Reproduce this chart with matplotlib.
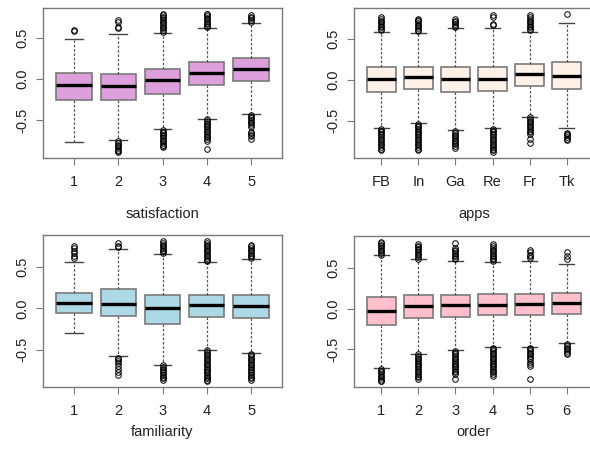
import matplotlib
matplotlib.use("Agg")
import matplotlib.pyplot as plt

plt.rcParams['font.family'] = ['Liberation Sans', 'DejaVu Sans']

# ---- satisfaction ----
sat_labels = ["1", "2", "3", "4", "5"]
sat_q1 = [-0.26, -0.26, -0.18, -0.075, -0.02]
sat_med = [-0.069, -0.08, -0.005, 0.07, 0.12]
sat_q3 = [0.073, 0.06, 0.12, 0.21, 0.26]
sat_lo = [-0.77, -0.745, -0.61, -0.485, -0.42]
sat_hi = [0.49, 0.55, 0.565, 0.62, 0.68]
sat_fliers = [
    [0.59, 0.60],
    [0.62, 0.63, 0.70, 0.72,
     -0.76, -0.78, -0.80, -0.82, -0.84, -0.86, -0.88, -0.895],
    [0.58, 0.60, 0.62, 0.64, 0.66, 0.68, 0.70, 0.72, 0.74, 0.76, 0.78, 0.80,
     -0.62, -0.64, -0.66, -0.68, -0.70, -0.72, -0.74, -0.76, -0.78, -0.80,
     -0.82, -0.83],
    [0.63, 0.65, 0.67, 0.69, 0.71, 0.73, 0.75, 0.77, 0.79, 0.80,
     -0.49, -0.51, -0.53, -0.55, -0.57, -0.59, -0.61, -0.63, -0.65, -0.67,
     -0.69, -0.71, -0.73, -0.75, -0.855],
    [0.70, 0.72, 0.74, 0.76, 0.785,
     -0.44, -0.46, -0.48, -0.50, -0.52, -0.54, -0.56, -0.585,
     -0.645, -0.66, -0.68, -0.70, -0.725],
]

# ---- apps ----
app_labels = ["FB", "In", "Ga", "Re", "Fr", "Tk"]
app_q1 = [-0.145, -0.113, -0.153, -0.14, -0.073, -0.113]
app_med = [0.012, 0.032, 0.012, 0.012, 0.073, 0.048]
app_q3 = [0.15, 0.16, 0.153, 0.16, 0.193, 0.21]
app_lo = [-0.585, -0.53, -0.617, -0.585, -0.455, -0.585]
app_hi = [0.585, 0.575, 0.625, 0.625, 0.585, 0.69]
app_fliers = [
    [0.60, 0.62, 0.64, 0.66, 0.68, 0.70, 0.72, 0.74, 0.77,
     -0.60, -0.62, -0.64, -0.66, -0.68, -0.70, -0.72, -0.74, -0.76, -0.78,
     -0.80, -0.82, -0.84, -0.855],
    [0.59, 0.61, 0.63, 0.65, 0.67, 0.69, 0.71, 0.73, 0.745,
     -0.54, -0.56, -0.58, -0.60, -0.62, -0.64, -0.66, -0.68, -0.70, -0.72,
     -0.74, -0.76, -0.78, -0.80, -0.82, -0.84, -0.855],
    [0.64, 0.66, 0.68, 0.70, 0.72, 0.745,
     -0.63, -0.65, -0.67, -0.69, -0.71, -0.73, -0.75, -0.77, -0.79, -0.81,
     -0.835],
    [0.665, 0.68, 0.76, 0.785,
     -0.60, -0.62, -0.64, -0.66, -0.68, -0.70, -0.72, -0.74, -0.76, -0.78,
     -0.80, -0.82, -0.84, -0.86, -0.887],
    [0.60, 0.62, 0.64, 0.66, 0.68, 0.70, 0.72, 0.74, 0.76, 0.785,
     -0.46, -0.48, -0.50, -0.52, -0.54, -0.56, -0.58, -0.60, -0.62, -0.64,
     -0.66, -0.72, -0.775],
    [0.806,
     -0.645, -0.66, -0.68, -0.70, -0.72, -0.734],
]

# ---- familiarity ----
fam_labels = ["1", "2", "3", "4", "5"]
fam_q1 = [-0.061, -0.093, -0.187, -0.10, -0.114]
fam_med = [0.069, 0.049, 0.008, 0.041, 0.033]
fam_q3 = [0.19, 0.232, 0.163, 0.167, 0.167]
fam_lo = [-0.305, -0.573, -0.683, -0.50, -0.54]
fam_hi = [0.565, 0.72, 0.658, 0.557, 0.598]
fam_fliers = [
    [0.61, 0.63, 0.67, 0.70, 0.73, 0.76],
    [0.74, 0.76, 0.79,
     -0.60, -0.62, -0.64, -0.66, -0.70, -0.74, -0.77, -0.805],
    [0.67, 0.69, 0.71, 0.73, 0.75, 0.77, 0.79, 0.82,
     -0.69, -0.71, -0.73, -0.75, -0.77, -0.79, -0.81, -0.83, -0.85, -0.866],
    [0.57, 0.59, 0.61, 0.63, 0.65, 0.67, 0.69, 0.71, 0.73, 0.75, 0.77,
     0.79, 0.81,
     -0.51, -0.53, -0.55, -0.57, -0.59, -0.61, -0.63, -0.65, -0.67, -0.69,
     -0.71, -0.73, -0.75, -0.77, -0.79, -0.81, -0.83, -0.85, -0.87, -0.886],
    [0.61, 0.63, 0.65, 0.67, 0.69, 0.71, 0.73, 0.75, 0.77,
     -0.55, -0.57, -0.59, -0.61, -0.63, -0.65, -0.67, -0.69, -0.71, -0.73,
     -0.75, -0.77, -0.79, -0.81, -0.83, -0.85, -0.866],
]

# ---- order ----
ord_labels = ["1", "2", "3", "4", "5", "6"]
ord_q1 = [-0.20, -0.113, -0.10, -0.077, -0.081, -0.061]
ord_med = [-0.024, 0.036, 0.045, 0.049, 0.061, 0.065]
ord_q3 = [0.138, 0.17, 0.17, 0.178, 0.178, 0.19]
ord_lo = [-0.729, -0.55, -0.51, -0.466, -0.466, -0.417]
ord_hi = [0.652, 0.603, 0.587, 0.563, 0.583, 0.547]
ord_fliers = [
    [0.66, 0.68, 0.70, 0.72, 0.74, 0.76, 0.78, 0.80, 0.818,
     -0.74, -0.76, -0.78, -0.80, -0.82, -0.84, -0.86, -0.88, -0.89],
    [0.61, 0.63, 0.65, 0.67, 0.69, 0.71, 0.73, 0.75, 0.77, 0.79,
     -0.56, -0.58, -0.60, -0.62, -0.64, -0.66, -0.68, -0.70, -0.72, -0.74,
     -0.76, -0.78, -0.80, -0.82, -0.84, -0.862],
    [0.60, 0.62, 0.64, 0.66, 0.68, 0.70, 0.72, 0.74, 0.806,
     -0.52, -0.54, -0.56, -0.58, -0.60, -0.62, -0.64, -0.66, -0.68, -0.70,
     -0.72, -0.74, -0.76, -0.78, -0.80, -0.862],
    [0.58, 0.60, 0.62, 0.64, 0.66, 0.68, 0.70, 0.72, 0.74, 0.76, 0.79,
     -0.48, -0.50, -0.52, -0.54, -0.56, -0.58, -0.60, -0.62, -0.64, -0.66,
     -0.68, -0.70, -0.72, -0.74, -0.76, -0.78, -0.80, -0.83],
    [0.62, 0.64, 0.66, 0.69, 0.717,
     -0.48, -0.50, -0.52, -0.54, -0.56, -0.58, -0.60, -0.62, -0.65, -0.68,
     -0.70, -0.862],
    [0.60, 0.636, 0.696,
     -0.437, -0.46, -0.48, -0.50, -0.52, -0.54, -0.56],
]

EDGE = "#7a7a7a"
TXT = "#222222"


def draw_panel(fig, rect, labels, q1, med, q3, lo, hi, fliers, color, xlabel,
               labelpad):
    ax = fig.add_axes(rect)
    stats = []
    for i in range(len(labels)):
        stats.append(dict(q1=q1[i], med=med[i], q3=q3[i], whislo=lo[i],
                          whishi=hi[i], fliers=fliers[i]))
    n = len(labels)
    ax.bxp(stats, positions=range(1, n + 1), widths=0.8, patch_artist=True,
           boxprops=dict(facecolor=color, edgecolor=EDGE, linewidth=1.2),
           medianprops=dict(color="black", linewidth=2.4),
           whiskerprops=dict(color="#555555", linestyle=(0, (2, 1.5)),
                             linewidth=0.9),
           capprops=dict(color="#444444", linewidth=1.0),
           flierprops=dict(marker="o", markersize=4, markerfacecolor="none",
                           markeredgecolor="black", markeredgewidth=0.7))
    # R style axis ranges
    pad_x = 0.04 * n
    ax.set_xlim(0.5 - pad_x, n + 0.5 + pad_x)
    allv = lo + hi + [v for f in fliers for v in f]
    ymin, ymax = min(allv), max(allv)
    pad_y = 0.04 * (ymax - ymin)
    ax.set_ylim(ymin - pad_y, ymax + pad_y)

    ax.set_xticks(range(1, n + 1))
    ax.set_xticklabels(labels)
    ax.set_yticks([-0.5, 0.0, 0.5])
    ax.set_yticklabels(["-0.5", "0.0", "0.5"], rotation=90, va="center")
    ax.tick_params(axis="both", length=5, width=0.8, color=EDGE,
                   labelsize=10.5, labelcolor=TXT)
    ax.tick_params(axis="x", pad=7)
    ax.tick_params(axis="y", pad=5)
    for s in ax.spines.values():
        s.set_color(EDGE)
        s.set_linewidth(1.0)
    ax.set_xlabel(xlabel, fontsize=10.5, color=TXT, labelpad=labelpad)
    return ax


W, H = 590, 449
fig = plt.figure(figsize=(W / 100, H / 100), dpi=100)


def rect(left, right, top, bottom):
    return [left / W, (H - bottom) / H, (right - left) / W, (bottom - top) / H]


draw_panel(fig, rect(43, 282, 8, 158), sat_labels, sat_q1, sat_med, sat_q3,
           sat_lo, sat_hi, sat_fliers, "#DDA0DD", "satisfaction", 13)
draw_panel(fig, rect(354, 594, 8, 158), app_labels, app_q1, app_med, app_q3,
           app_lo, app_hi, app_fliers, "#FFF0E8", "apps", 13)
draw_panel(fig, rect(43, 282, 235, 387), fam_labels, fam_q1, fam_med, fam_q3,
           fam_lo, fam_hi, fam_fliers, "#ADD8E6", "familiarity", 5)
draw_panel(fig, rect(354, 594, 236, 387), ord_labels, ord_q1, ord_med, ord_q3,
           ord_lo, ord_hi, ord_fliers, "#FFC0CB", "order", 5)

fig.savefig("out.png", dpi=100)
